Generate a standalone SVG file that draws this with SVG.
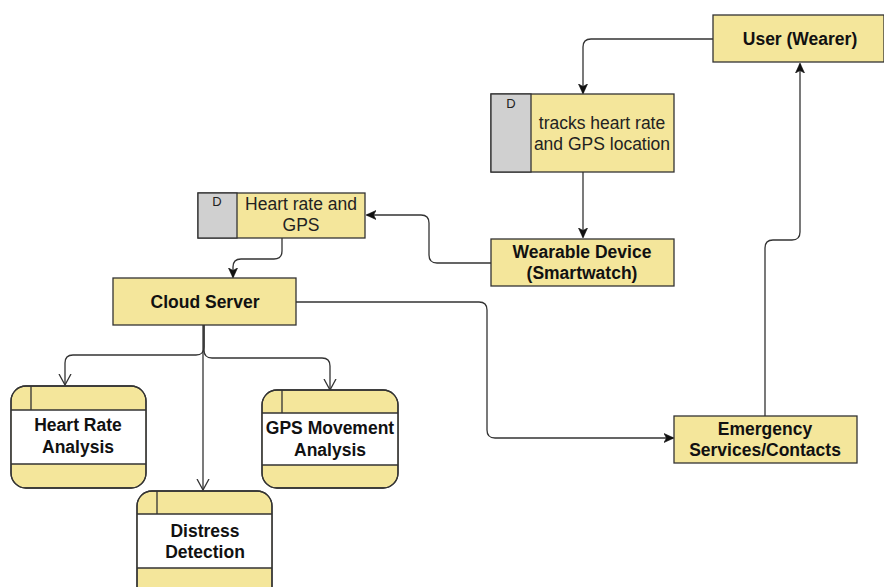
<svg xmlns="http://www.w3.org/2000/svg" width="884" height="587" viewBox="0 0 884 587">
  <style>
    .box { fill: #f4e69b; stroke: #333; stroke-width: 1.3; }
    .gray { fill: #d0d0d0; stroke: #333; stroke-width: 1.3; }
    .white { fill: #ffffff; stroke: none; }
    .band { stroke: #333; stroke-width: 1.3; fill: none; }
    .edge { fill: none; stroke: #333; stroke-width: 1.3; }
    .bold { font-family: "Liberation Sans", Arial, sans-serif; font-weight: bold; font-size: 17.5px; fill: #111; text-anchor: middle; }
    .reg { font-family: "Liberation Sans", Arial, sans-serif; font-size: 17.5px; fill: #222; text-anchor: middle; }
    .tag { font-family: "Liberation Sans", Arial, sans-serif; font-size: 13px; fill: #222; text-anchor: middle; }
  </style>
  <defs>
    <marker id="solid" viewBox="0 0 10 10" refX="9" refY="5" markerWidth="10" markerHeight="10" markerUnits="userSpaceOnUse" orient="auto">
      <path d="M0,0.5 L10,5 L0,9.5 L2.5,5 z" fill="#111" stroke="#111" stroke-width="0.6"/>
    </marker>
    <marker id="open" viewBox="0 0 12 14" refX="11" refY="7" markerWidth="12" markerHeight="14" markerUnits="userSpaceOnUse" orient="auto">
      <path d="M0,1 L11,7 L0,13" fill="none" stroke="#333" stroke-width="1.3"/>
    </marker>
  </defs>

  <!-- connectors -->
  <g id="connectors">
    <path class="edge" d="M713,39 L591,39 Q583,39 583,47 L583,93" marker-end="url(#solid)"/>
    <path class="edge" d="M583,172 L583,237" marker-end="url(#solid)"/>
    <path class="edge" d="M491,263 L437,263 Q429,263 429,255 L429,223 Q429,215 421,215 L367,215" marker-end="url(#solid)"/>
    <path class="edge" d="M282,238 L282,251 Q282,259 274,259 L241,259 Q233,259 233,267 L233,277" marker-end="url(#solid)"/>
    <path class="edge" d="M204,325 L204,347 Q204,355 196,355 L73,355 Q65,355 65,363 L65,385" marker-end="url(#open)"/>
    <path class="edge" d="M204,325 L204,350 Q204,358 212,358 L322,358 Q330,358 330,366 L330,390" marker-end="url(#open)"/>
    <path class="edge" d="M203,325 L203,490" marker-end="url(#open)"/>
    <path class="edge" d="M296,302 L479,302 Q487,302 487,310 L487,430 Q487,438 495,438 L673,438" marker-end="url(#solid)"/>
    <path class="edge" d="M765,416 L765,248 Q765,240 773,240 L792,240 Q800,240 800,232 L800,64" marker-end="url(#solid)"/>
  </g>

  <!-- external entity: user -->
  <g id="user">
    <rect class="box" x="713" y="15" width="171" height="47"/>
    <text class="bold" x="800" y="45">User (Wearer)</text>
  </g>

  <!-- data store: sensor tracking -->
  <g id="store-tracking">
    <rect class="box" x="491" y="94" width="183" height="78"/>
    <rect class="gray" x="491" y="94" width="40" height="78"/>
    <text class="tag" x="511" y="108">D</text>
    <text class="reg" x="602" y="129">tracks heart rate</text>
    <text class="reg" x="602" y="150">and GPS location</text>
  </g>

  <!-- wearable device -->
  <g id="wearable">
    <rect class="box" x="491" y="239" width="183" height="47"/>
    <text class="bold" x="582" y="258">Wearable Device</text>
    <text class="bold" x="582" y="279">(Smartwatch)</text>
  </g>

  <!-- data store: heart rate and GPS -->
  <g id="store-hr-gps">
    <rect class="box" x="198" y="193" width="167" height="45"/>
    <rect class="gray" x="198" y="193" width="39" height="45"/>
    <text class="tag" x="217" y="206">D</text>
    <text class="reg" x="301" y="210">Heart rate and</text>
    <text class="reg" x="301" y="231">GPS</text>
  </g>

  <!-- cloud server -->
  <g id="cloud">
    <rect class="box" x="113" y="278" width="183" height="47"/>
    <text class="bold" x="205" y="308">Cloud Server</text>
  </g>

  <!-- process: heart rate analysis -->
  <g id="hr-analysis">
    <rect class="box" x="11" y="386" width="135" height="102" rx="15"/>
    <rect class="white" x="11.7" y="410" width="133.6" height="54"/>
    <path class="band" d="M11,410 L146,410 M11,464 L146,464 M31,386 L31,410"/>
    <rect x="11" y="386" width="135" height="102" rx="15" fill="none" stroke="#333" stroke-width="1.3"/>
    <text class="bold" x="78" y="431">Heart Rate</text>
    <text class="bold" x="78" y="453">Analysis</text>
  </g>

  <!-- process: GPS movement analysis -->
  <g id="gps-analysis">
    <rect class="box" x="262" y="390" width="136" height="98" rx="15"/>
    <rect class="white" x="262.7" y="413" width="134.6" height="52"/>
    <path class="band" d="M262,413 L398,413 M262,465 L398,465 M282,390 L282,413"/>
    <rect x="262" y="390" width="136" height="98" rx="15" fill="none" stroke="#333" stroke-width="1.3"/>
    <text class="bold" x="330" y="434">GPS Movement</text>
    <text class="bold" x="330" y="456">Analysis</text>
  </g>

  <!-- process: distress detection -->
  <g id="distress">
    <rect class="box" x="137" y="491" width="135" height="110" rx="15"/>
    <rect class="white" x="137.7" y="514" width="133.6" height="54"/>
    <path class="band" d="M137,514 L272,514 M137,568 L272,568 M157,491 L157,514"/>
    <rect x="137" y="491" width="135" height="110" rx="15" fill="none" stroke="#333" stroke-width="1.3"/>
    <text class="bold" x="205" y="537">Distress</text>
    <text class="bold" x="205" y="558">Detection</text>
  </g>

  <!-- emergency services -->
  <g id="emergency">
    <rect class="box" x="674" y="416" width="183" height="47"/>
    <text class="bold" x="765" y="435">Emergency</text>
    <text class="bold" x="765" y="456">Services/Contacts</text>
  </g>
</svg>
